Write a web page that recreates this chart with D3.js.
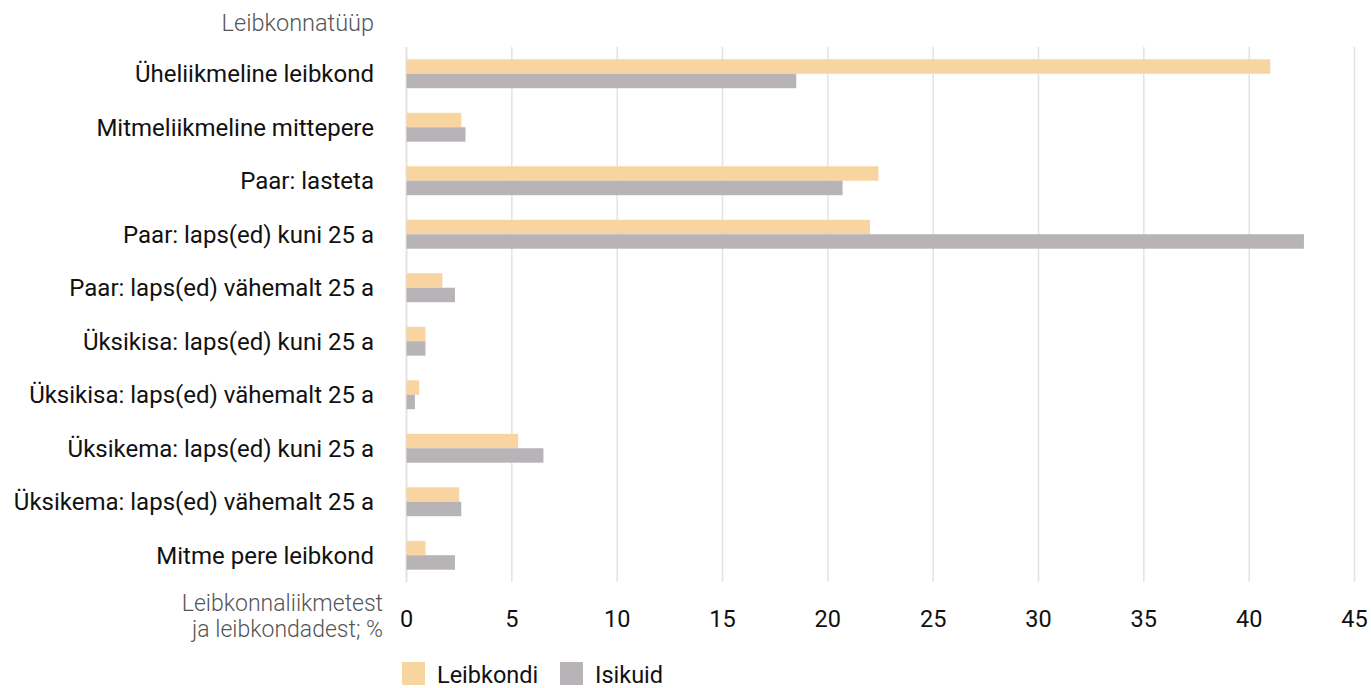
<!DOCTYPE html>
<html><head><meta charset="utf-8">
<script src="https://cdn.jsdelivr.net/npm/d3@7"></script>
<style>body{margin:0;background:#fff;} text{font-family:Roboto, sans-serif;}</style>
</head><body>
<svg id="c" width="1371" height="688"></svg>
<script>
const categories = ["Üheliikmeline leibkond","Mitmeliikmeline mittepere","Paar: lasteta","Paar: laps(ed) kuni 25 a","Paar: laps(ed) vähemalt 25 a","Üksikisa: laps(ed) kuni 25 a","Üksikisa: laps(ed) vähemalt 25 a","Üksikema: laps(ed) kuni 25 a","Üksikema: laps(ed) vähemalt 25 a","Mitme pere leibkond"];
const seriesNames = ["Leibkondi","Isikuid"];
const leibkondi = [41.0,2.6,22.4,22.0,1.7,0.9,0.6,5.3,2.5,0.9];
const isikuid = [18.5,2.8,20.7,42.6,2.3,0.9,0.4,6.5,2.6,2.3];
const ticks = [0,5,10,15,20,25,30,35,40,45];
const colors = ["#f8d4a0","#b7b3b7"];

const svg = d3.select("#c");
const x = d3.scaleLinear().domain([0,45]).range([406.5,1354.5]);
const y = d3.scaleBand().domain(categories).range([47,582]).paddingInner(0.46).paddingOuter(0.23);
const sub = d3.scaleBand().domain(seriesNames).range([0,y.bandwidth()]);

// grid
svg.append("g").selectAll("line").data(ticks).join("line")
  .attr("x1",d=>x(d)).attr("x2",d=>x(d)).attr("y1",47).attr("y2",582)
  .attr("stroke","#e3e3e3").attr("stroke-width",d=>d===0?2:1.5);

const data = categories.map((c,i)=>({c, v:[leibkondi[i],isikuid[i]]}));
const g = svg.append("g");
data.forEach(d=>{
  seriesNames.forEach((s,j)=>{
    g.append("rect").attr("x",x(0)).attr("y",y(d.c)+sub(s))
     .attr("width",x(d.v[j])-x(0)).attr("height",sub.bandwidth()).attr("fill",colors[j]);
  });
});

// category labels
svg.append("g").selectAll("text").data(categories).join("text")
  .attr("x",374).attr("y",d=>y(d)+y.bandwidth()/2).attr("dy","0.35em")
  .attr("text-anchor","end").attr("font-size",24).attr("fill","#111").text(d=>d);

svg.append("text").attr("x",374).attr("y",31).attr("text-anchor","end")
  .attr("font-size",23.5).attr("font-weight",300).attr("fill","#555").text("Leibkonnatüüp");

// x axis tick labels
svg.append("g").selectAll("text").data(ticks).join("text")
  .attr("x",d=>x(d)).attr("y",627).attr("text-anchor","middle")
  .attr("font-size",23.5).attr("fill","#111").text(d=>d);

const at = svg.append("text").attr("text-anchor","end").attr("font-size",23)
  .attr("font-weight",300).attr("fill","#555");
at.append("tspan").attr("x",383).attr("y",611).text("Leibkonnaliikmetest");
at.append("tspan").attr("x",383).attr("y",637).text("ja leibkondadest; %");

// legend
const lx = [402,560];
seriesNames.forEach((s,j)=>{
  svg.append("rect").attr("x",lx[j]).attr("y",662).attr("width",23).attr("height",23).attr("fill",colors[j]);
  svg.append("text").attr("x",lx[j]+35).attr("y",683).attr("font-size",23.5).attr("fill","#111").text(s);
});
</script>
</body></html>
